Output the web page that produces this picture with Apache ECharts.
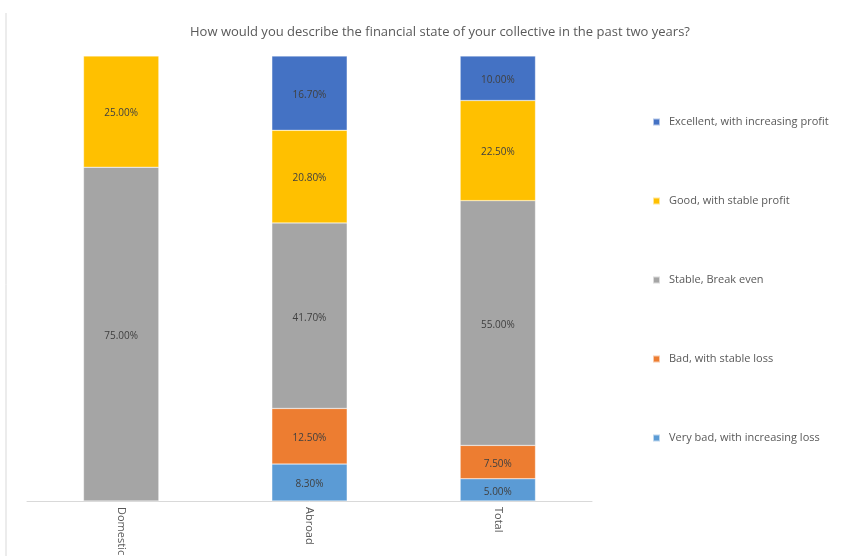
<!DOCTYPE html>
<html>
<head>
<meta charset="utf-8">
<script src="https://cdn.jsdelivr.net/npm/echarts@6/dist/echarts.min.js"></script>
<style>html,body{margin:0;padding:0;background:#fff}#c{width:862px;height:556px}</style>
</head>
<body>
<div id="c"></div>
<script>
const categories = ["Domestic", "Abroad", "Total"];
const seriesNames = ["Very bad, with increasing loss", "Bad, with stable loss", "Stable, Break even", "Good, with stable profit", "Excellent, with increasing profit"];
const veryBad = [0, 8.3, 5.0];
const bad = [0, 12.5, 7.5];
const stable = [75.0, 41.7, 55.0];
const good = [25.0, 20.8, 22.5];
const excellent = [0, 16.7, 10.0];
const colors = ["#5B9BD5", "#ED7D31", "#A5A5A5", "#FFC000", "#4472C4"];
const legendOrder = ["Excellent, with increasing profit", "Good, with stable profit", "Stable, Break even", "Bad, with stable loss", "Very bad, with increasing loss"];

const font = "'Open Sans', 'Liberation Sans', sans-serif";
const values = [veryBad, bad, stable, good, excellent];
const chart = echarts.init(document.getElementById('c'));
chart.setOption({
  animation: false,
  title: {
    text: "How would you describe the financial state of your collective in the past two years?",
    left: 435, top: 21, textAlign: 'center',
    textStyle: {fontFamily: font, fontSize: 13, fontWeight: 'normal', color: '#595959'}
  },
  graphic: [{type: 'line', shape: {x1: 6, y1: 13, x2: 6, y2: 556}, style: {stroke: '#D9D9D9', lineWidth: 1}}],
  legend: {
    orient: 'vertical', left: 647, top: 110,
    itemWidth: 7, itemHeight: 7, itemGap: 65, icon: 'rect',
    data: legendOrder,
    textStyle: {fontFamily: font, fontSize: 11, color: '#595959', lineHeight: 14, padding: [0, 0, 0, 4]}
  },
  grid: {left: 27, right: 270, top: 56, bottom: 55, outerBoundsMode: 'none', containLabel: false},
  xAxis: {
    type: 'category', data: categories,
    axisLine: {lineStyle: {color: '#D9D9D9'}},
    axisTick: {show: false},
    axisLabel: {rotate: -90, color: '#595959', fontFamily: font, fontSize: 11, margin: 6}
  },
  yAxis: {type: 'value', min: 0, max: 100, show: false, splitLine: {show: false}},
  series: seriesNames.map((n, i) => ({
    name: n, type: 'bar', stack: 'all', barWidth: '40%',
    data: values[i].map(v => v === 0 ? null : v),
    itemStyle: {color: colors[i], borderColor: 'rgba(255,255,255,0.6)', borderWidth: 0.5},
    label: {show: true, position: 'inside', offset: [0, 2], formatter: p => p.value.toFixed(2) + '%', color: '#404040', fontFamily: font, fontSize: 10}
  }))
});
</script>
</body>
</html>
